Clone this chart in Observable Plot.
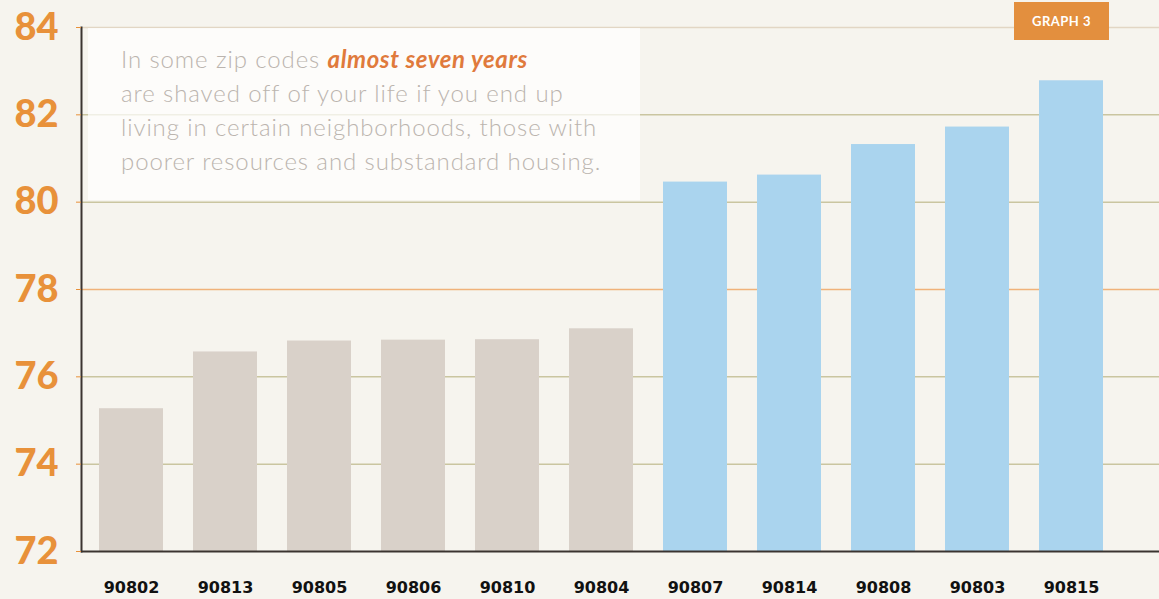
<!DOCTYPE html>
<html><head><meta charset="utf-8">
<script src="https://cdn.jsdelivr.net/npm/d3@7"></script>
<script src="https://cdn.jsdelivr.net/npm/@observablehq/plot@0.6"></script>
<style>
body{margin:0;background:#f6f4ee;}
#wrap{position:relative;width:1159px;height:599px;overflow:hidden;background:#f6f4ee;}
#wrap svg{position:absolute;left:0;top:0;}
.note{position:absolute;left:88px;top:28px;width:552px;height:172px;background:rgba(255,255,255,0.72);font-family:Lato;font-weight:300;font-size:24px;letter-spacing:0.9px;line-height:34px;color:#bbb4ae;padding:14px 0 0 33px;box-sizing:border-box;white-space:nowrap;}
.note b{color:#e07a3c;font-style:italic;font-weight:700;letter-spacing:0.6px;}
.badge{position:absolute;left:1014px;top:2px;width:95px;height:38px;background:#e38f3e;color:#fff;font:bold 13px Lato;display:flex;align-items:center;justify-content:center;letter-spacing:0.5px;}
</style></head><body><div id="wrap"></div>
<script>
const zips = ["90802","90813","90805","90806","90810","90804","90807","90814","90808","90803","90815"];
const lifeExpectancy = [75.27, 76.57, 76.82, 76.84, 76.85, 77.1, 80.46, 80.62, 81.32, 81.72, 82.78];
const groups = ["lower","lower","lower","lower","lower","lower","higher","higher","higher","higher","higher"];
const yTicks = [72, 74, 76, 78, 80, 82, 84];
const noteText = ["In some zip codes ", "almost seven years", "are shaved off of your life if you end up", "living in certain neighborhoods, those with", "poorer resources and substandard housing."];
const badgeText = "GRAPH 3";

const data = zips.map((z, i) => ({zip: z, value: lifeExpectancy[i], group: groups[i]}));

const chart = Plot.plot({
  width: 1159, height: 599,
  marginLeft: 81, marginRight: 0, marginTop: 27, marginBottom: 48,
  style: {background: "transparent", fontFamily: "Lato"},
  x: {domain: zips, range: [81, 1120], paddingInner: 0.32, paddingOuter: 0.16, label: null},
  y: {domain: [72, 84], label: null},
  color: {domain: ["lower", "higher"], range: ["#d9d1c9", "#aad4ee"]},
  marks: [
    Plot.ruleY(yTicks.slice(1), {stroke: d => d === 78 ? "#f0b27a" : (d === 84 ? "#e2d6c4" : "#cac5a0"), strokeWidth: 1.5}),
    Plot.barY(data, {x: "zip", y1: 72, y2: "value", fill: "group"}),
    Plot.ruleY([72], {stroke: "#3b3430", strokeWidth: 2}),
    Plot.frame({anchor: "left", stroke: "#3b3430", strokeWidth: 2}),
    Plot.axisY({ticks: yTicks, tickSize: 5, tickPadding: 18, color: "#e8913a", fontSize: 38, fontWeight: 900, fontFamily: "Lato", tickFormat: d => String(d)}),
    Plot.axisX({tickSize: 0, tickPadding: 30, fontSize: 16, fontWeight: "bold", fontFamily: "DejaVu Sans", color: "#111"})
  ]
});
const wrap = document.getElementById("wrap");
wrap.appendChild(chart);
const note = document.createElement("div");
note.className = "note";
note.innerHTML = `${noteText[0]}<b>${noteText[1]}</b><br>${noteText[2]}<br>${noteText[3]}<br>${noteText[4]}`;
wrap.appendChild(note);
const badge = document.createElement("div");
badge.className = "badge";
badge.textContent = badgeText;
wrap.appendChild(badge);
</script>
</body></html>
